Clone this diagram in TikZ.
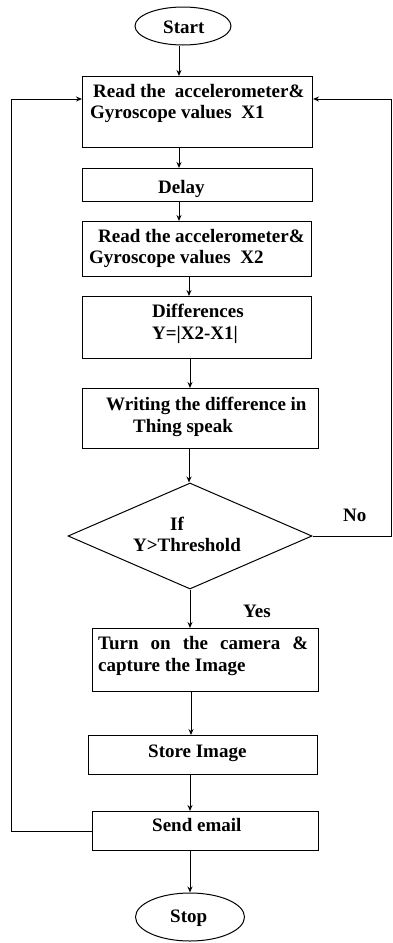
\documentclass[tikz,border=0pt]{standalone}
\usepackage{fontspec}
\setmainfont{Liberation Serif}
\usetikzlibrary{arrows.meta,shapes.geometric}
\begin{document}
\begin{tikzpicture}[x=1pt,y=-1pt,
  every node/.style={font=\bfseries\fontsize{19}{22}\selectfont},
  box/.style={draw, line width=1pt, inner sep=0pt, anchor=north west},
  term/.style={draw, ellipse, line width=1pt, inner sep=0pt},
  lbl/.style={anchor=base west, inner sep=0pt},
  arr/.style={line width=1pt, -{Stealth[length=6pt,width=5pt]}},
  ln/.style={line width=1pt}]
\useasboundingbox (0,0) rectangle (393,943);
% column coordinates
\coordinate (xa) at (179,0);
\coordinate (xb) at (189,0);
\coordinate (xc) at (190,0);
\coordinate (xd) at (191,0);
\coordinate (xl) at (11,0);
\coordinate (xr) at (391.5,0);
\coordinate (yl) at (0,99);
% shapes
\node[term, minimum width=96pt, minimum height=38pt] (start) at (183,26) {};
\node[box, minimum width=230pt, minimum height=71pt] (b1) at (82,76) {};
\node[box, minimum width=230pt, minimum height=33pt] (b2) at (82,168) {};
\node[box, minimum width=229pt, minimum height=55pt] (b3) at (82,221) {};
\node[box, minimum width=229pt, minimum height=62pt] (b4) at (82,296) {};
\node[box, minimum width=236pt, minimum height=60pt] (b5) at (82,388) {};
\node[draw, diamond, line width=1pt, inner sep=0pt, minimum width=244pt, minimum height=106pt] (dia) at (190,536) {};
\node[box, minimum width=226pt, minimum height=63pt] (b6) at (92,628) {};
\node[box, minimum width=229pt, minimum height=39pt] (b7) at (88,735) {};
\node[box, minimum width=226pt, minimum height=39pt] (b8) at (92,811) {};
\node[term, minimum width=109pt, minimum height=48pt] (stop) at (190,917) {};
% texts
\node[lbl] (tstart) at (163,33) {Start};
\node[lbl] (t1a) at (93,97) {Read the\ \ accelerometer\&};
\node[lbl] (t1b) at (90,118) {Gyroscope values\ \ X1};
\node[lbl] (t2) at (158,193) {Delay};
\node[lbl] (t3a) at (98,242) {Read the accelerometer\&};
\node[lbl] (t3b) at (89,263) {Gyroscope values\ \ X2};
\node[lbl] (t4a) at (152,317) {Differences};
\node[lbl] (t4b) at (152,339) {Y=|X2-X1|};
\node[lbl] (t5a) at (106,410) {Writing the difference in};
\node[lbl] (t5b) at (133,432) {Thing speak};
\node[lbl] (tda) at (170,530) {If};
\node[lbl] (tdb) at (133,551) {Y>Threshold};
\node[lbl] (tno) at (343,521) {No};
\node[lbl] (tyes) at (243,617) {Yes};
\node[lbl] (t6a) at (98,649) {\makebox[210pt][s]{Turn on the camera \&}};
\node[lbl] (t6b) at (98,671) {capture the Image};
\node[lbl] (t7) at (148,757) {Store Image};
\node[lbl] (t8) at (152,831) {Send email};
\node[lbl] (tstop) at (170,922) {Stop};
% connectors
\draw[arr] (start.south -| xa) -- (b1.north -| xa);
\draw[arr] (b1.south -| xa) -- (b2.north -| xa);
\draw[arr] (b2.south -| xa) -- (b3.north -| xa);
\draw[arr] (b3.south -| xb) -- (b4.north -| xb);
\draw[arr] (b4.south -| xc) -- (b5.north -| xc);
\draw[arr] (b5.south -| xb) -- (dia.north -| xb);
\draw[arr] (dia.south -| xc) -- (b6.north -| xc);
\draw[arr] (b6.south -| xd) -- (b7.north -| xd);
\draw[arr] (b7.south -| xc) -- (b8.north -| xc);
\draw[arr] (b8.south -| xc) -- (stop.north -| xc);
\draw[arr] (dia.east) -- (dia.east -| xr) -- (xr |- yl) -- (b1.east |- yl);
\draw[arr] (b8.west) -- (b8.west -| xl) -- (xl |- yl) -- (b1.west |- yl);
\end{tikzpicture}
\end{document}
